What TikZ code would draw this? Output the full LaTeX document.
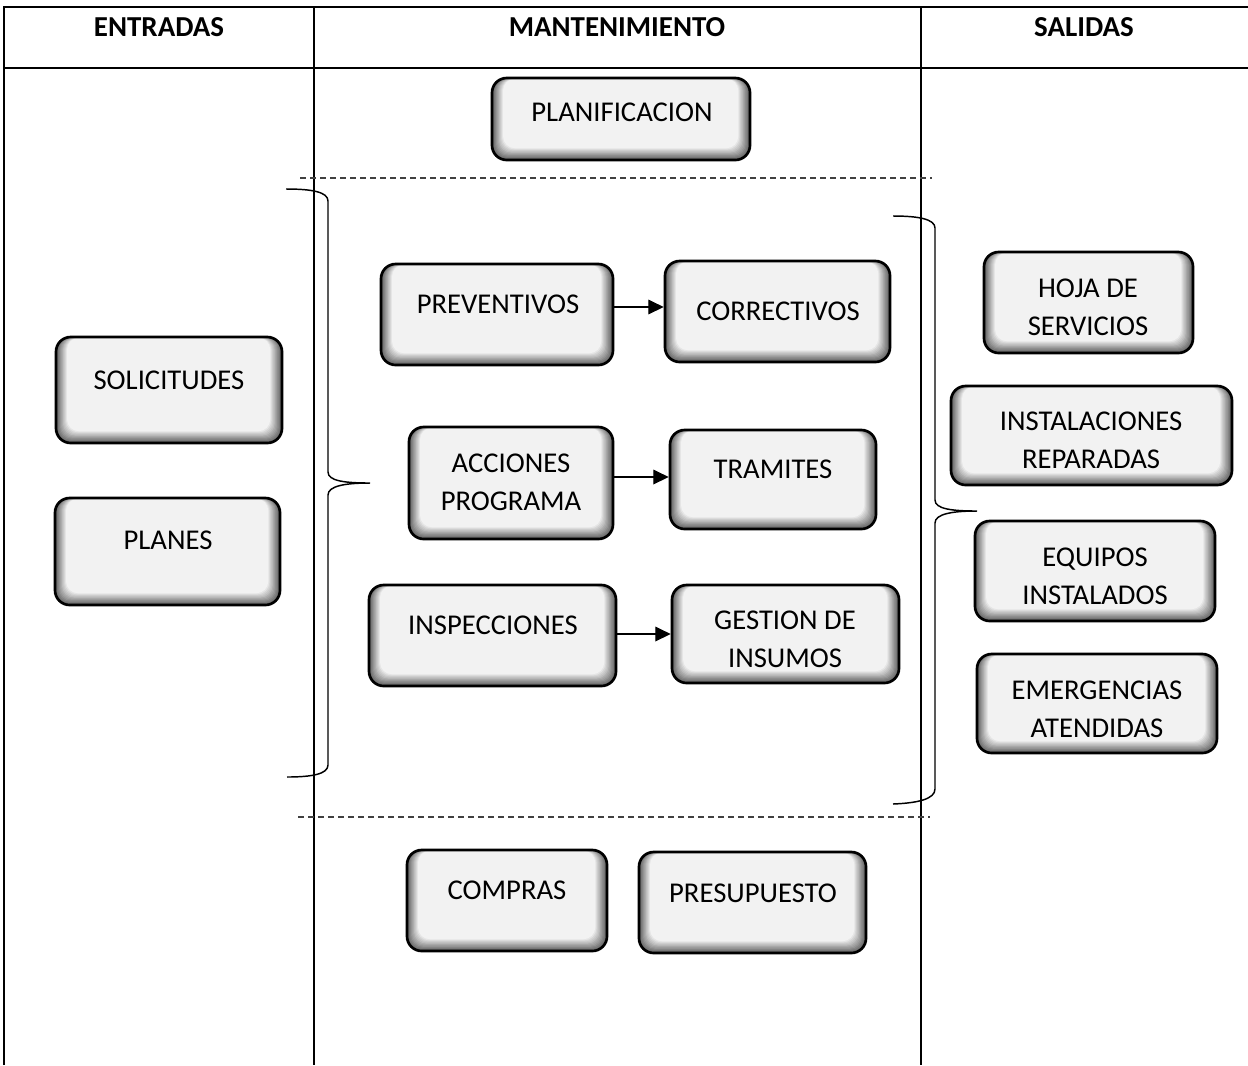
\documentclass[tikz,border=0pt]{standalone}
\usepackage{fontspec}
\setmainfont{Carlito}
\usetikzlibrary{arrows.meta,fit}
\begin{document}
\begin{tikzpicture}[x=0.75pt,y=-0.75pt,
  % bevelled process box: dark rim fading to a light face
  bx/.style={draw=black, line width=2pt, rounded corners=11pt, fill=black!60,
    inner sep=0pt,
    path picture={
      \foreach \k in {1,...,11}{
        \pgfmathtruncatemacro\c{64-\k*5.3}
        \fill[black!\c, rounded corners=9pt]
          ([xshift=\k*0.75pt, yshift=\k*0.8pt]path picture bounding box.south west)
          rectangle ([xshift=-\k*0.8pt, yshift=-0.5pt]path picture bounding box.north east);
      }
    }},
  lbl/.style={font=\fontsize{21.5}{28.5}\selectfont, align=center, inner sep=0pt},
  head/.style={font=\fontsize{21.7}{26}\selectfont\bfseries, inner sep=0pt},
  grid/.style={line width=1.2pt},
  sep/.style={line width=0.8pt, black!75, dash pattern=on 4.5pt off 3pt},
  brace/.style={line width=1.1pt},
  arr/.style={line width=0.9pt, -{Triangle[length=11.5pt,width=11pt]}}
]
\useasboundingbox (0,0) rectangle (1248,1065);

% table frame
\draw[grid] (4,1065) -- (4,7) -- (1248,7);
\draw[grid] (4,68) -- (1248,68);
\draw[grid] (314,7) -- (314,1065);
\draw[grid] (921,7) -- (921,1065);

% column headings
\node[head] (hin)  at (159,27)  {ENTRADAS};
\node[head] (hmid) at (617,27)  {MANTENIMIENTO};
\node[head] (hout) at (1084,27) {SALIDAS};

% dashed separators
\draw[sep] (300,178) -- (932,178);
\draw[sep] (298,817) -- (930,817);

% braces
\draw[brace] (286,189) .. controls (312,189) and (328,192) .. (328,201)
  -- (328,472) .. controls (328,481) and (345,483) .. (370,483)
  .. controls (345,483) and (328,486) .. (328,495)
  -- (328,765) .. controls (328,774) and (312,777) .. (287,777);
\draw[brace] (893,216) .. controls (918,216) and (935,219) .. (935,228)
  -- (935,500) .. controls (935,509) and (952,511) .. (977,511)
  .. controls (952,511) and (935,514) .. (935,523)
  -- (935,789) .. controls (935,799) and (918,803) .. (893,804);

% boxes
\node[bx, fit={(492,78)(750,160)}] (plan) {};
\node[lbl] (plan-t) at (622,112) {PLANIFICACION};

\node[bx, fit={(381,264)(613,365)}] (prev) {};
\node[lbl] (prev-t) at (498,304) {PREVENTIVOS};
\node[bx, fit={(665,261)(890,362)}] (corr) {};
\node[lbl] (corr-t) at (778,311) {CORRECTIVOS};

\node[bx, fit={(409,427)(613,539)}] (acc) {};
\node[lbl] (acc-t) at (511,482) {ACCIONES\\PROGRAMA};
\node[bx, fit={(670,430)(876,529)}] (tram) {};
\node[lbl] (tram-t) at (773,469) {TRAMITES};

\node[bx, fit={(369,585)(616,686)}] (insp) {};
\node[lbl] (insp-t) at (493,625) {INSPECCIONES};
\node[bx, fit={(672,585)(899,683)}] (gest) {};
\node[lbl] (gest-t) at (785,639) {GESTION DE\\INSUMOS};

\node[bx, fit={(56,337)(282,443)}] (sol) {};
\node[lbl] (sol-t) at (169,380) {SOLICITUDES};
\node[bx, fit={(55,498)(280,605)}] (planes) {};
\node[lbl] (planes-t) at (168,540) {PLANES};

\node[bx, fit={(984,252)(1193,353)}] (hoja) {};
\node[lbl] (hoja-t) at (1088,307) {HOJA DE\\SERVICIOS};
\node[bx, fit={(951,386)(1232,485)}] (inst) {};
\node[lbl] (inst-t) at (1091,440) {INSTALACIONES\\REPARADAS};
\node[bx, fit={(975,521)(1215,621)}] (equi) {};
\node[lbl] (equi-t) at (1095,576) {EQUIPOS\\INSTALADOS};
\node[bx, fit={(977,654)(1217,753)}] (emer) {};
\node[lbl] (emer-t) at (1097,709) {EMERGENCIAS\\ATENDIDAS};

\node[bx, fit={(407,850)(607,951)}] (comp) {};
\node[lbl] (comp-t) at (507,890) {COMPRAS};
\node[bx, fit={(639,852)(866,953)}] (pres) {};
\node[lbl] (pres-t) at (753,893) {PRESUPUESTO};

% flow arrows
\coordinate (a1) at (0,307);
\coordinate (a2) at (0,477);
\coordinate (a3) at (0,634);
\draw[arr] (prev.east |- a1) -- (corr.west |- a1);
\draw[arr] (acc.east |- a2) -- (tram.west |- a2);
\draw[arr] (insp.east |- a3) -- (gest.west |- a3);
\end{tikzpicture}
\end{document}
